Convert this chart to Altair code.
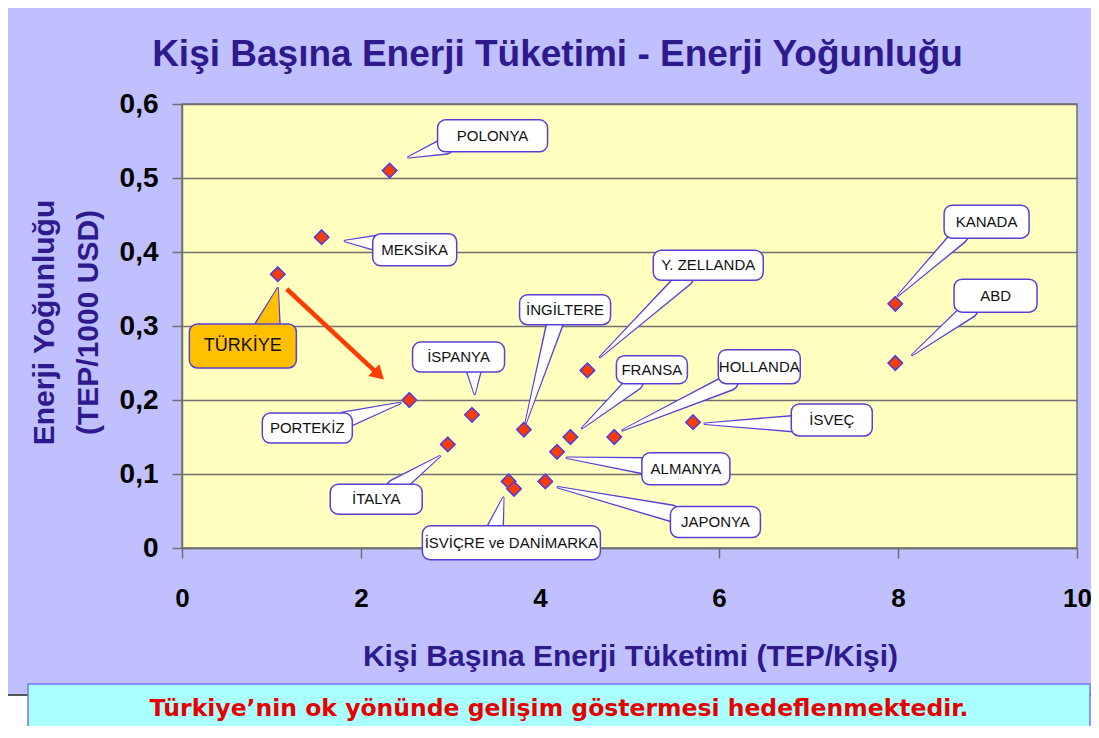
import altair as alt
import pandas as pd

# ---- data ----
countries = ["TÜRKİYE", "MEKSİKA", "POLONYA", "PORTEKİZ", "İSPANYA", "İTALYA",
             "İNGİLTERE", "Y. ZELLANDA", "FRANSA", "ALMANYA", "HOLLANDA", "İSVEÇ",
             "İSVİÇRE", "DANİMARKA", "JAPONYA", "KANADA", "ABD"]
consumption = [1.07, 1.56, 2.32, 2.54, 3.24, 2.97, 3.82, 4.53, 4.34, 4.19, 4.83, 5.71,
               3.65, 3.71, 4.06, 7.97, 7.97]
intensity = [0.37, 0.42, 0.51, 0.20, 0.18, 0.14, 0.16, 0.24, 0.15, 0.13, 0.15, 0.17,
             0.09, 0.08, 0.09, 0.33, 0.25]

x_ticks = [0, 2, 4, 6, 8, 10]
y_ticks = [0, 0.1, 0.2, 0.3, 0.4, 0.5, 0.6]

# ---- callout label placement (data units) ----
label_names = ["POLONYA", "MEKSİKA", "TÜRKİYE", "İSPANYA", "PORTEKİZ", "İTALYA",
               "İSVİÇRE ve DANİMARKA", "İNGİLTERE", "Y. ZELLANDA", "FRANSA", "HOLLANDA",
               "İSVEÇ", "ALMANYA", "JAPONYA", "KANADA", "ABD"]
label_cx = [3.47, 2.60, 0.68, 3.09, 1.40, 2.17, 3.68, 4.28, 5.88, 5.25, 6.45, 7.26, 5.63, 5.96, 8.99, 9.09]
label_cy = [0.557, 0.403, 0.273, 0.258, 0.162, 0.066, 0.007, 0.322, 0.382, 0.241, 0.245, 0.173, 0.107, 0.035, 0.441, 0.341]
box_w = [110, 84, 107, 92, 90, 92, 178, 91, 110, 71, 82, 81, 88, 90, 85, 83]
box_h = [32, 32, 44, 30, 30, 30, 34, 30, 30, 28, 34, 32, 32, 31, 33, 33]
base_x = [2.94, 2.19, 0.96, 3.26, 1.82, 2.38, 3.50, 4.17, 5.62, 5.06, 6.12, 6.85, 5.17, 5.47, 8.69, 8.80]
base_y = [0.543, 0.412, 0.300, 0.243, 0.173, 0.082, 0.027, 0.305, 0.365, 0.224, 0.224, 0.168, 0.111, 0.047, 0.422, 0.322]
tip_x = [2.53, 1.82, 1.07, 3.27, 2.44, 2.88, 3.59, 3.84, 4.67, 4.47, 4.92, 5.84, 4.30, 4.20, 8.00, 8.16]
tip_y = [0.528, 0.415, 0.351, 0.208, 0.196, 0.124, 0.068, 0.169, 0.258, 0.162, 0.159, 0.168, 0.122, 0.082, 0.341, 0.261]

arrow_x = [1.17, 2.20]
arrow_y = [0.350, 0.234]

# ---- layout ----
W, H = 895, 444
PXU = W / 10.0
PYU = H / 0.6
PAD = {"left": 174, "top": 96, "right": 14, "bottom": 178}

INDIGO = "#2e1a8c"
EDGE = "#5a3fd6"
FONT = "Liberation Sans"

pts = pd.DataFrame({"country": countries, "x": consumption, "y": intensity})

boxes = pd.DataFrame({
    "label": label_names,
    "cx": label_cx, "cy": label_cy,
    "x1": [c - w / 2 / PXU for c, w in zip(label_cx, box_w)],
    "x2": [c + w / 2 / PXU for c, w in zip(label_cx, box_w)],
    "y1": [c - h / 2 / PYU for c, h in zip(label_cy, box_h)],
    "y2": [c + h / 2 / PYU for c, h in zip(label_cy, box_h)],
    "main": [n == "TÜRKİYE" for n in label_names],
})

rows = []
for i, n in enumerate(label_names):
    bw = 24 if n == "TÜRKİYE" else 15
    rows.append({"label": n, "o": 0, "x": base_x[i], "y": base_y[i], "w": bw, "wo": bw + 3, "main": n == "TÜRKİYE"})
    rows.append({"label": n, "o": 1, "x": tip_x[i], "y": tip_y[i], "w": 0.5, "wo": 2.5, "main": n == "TÜRKİYE"})
wedges = pd.DataFrame(rows)

arrow = pd.DataFrame({"x": arrow_x, "y": arrow_y, "o": [0, 1]})

xs = alt.Scale(domain=[0, 10], nice=False)
ys = alt.Scale(domain=[0, 0.6], nice=False)

x_axis = alt.Axis(values=x_ticks, grid=False, tickSize=10, tickColor="#707070", tickWidth=1.5,
                  domainColor="#707070", domainWidth=1.5, format="d", labelFlush=False,
                  labelFont=FONT, labelFontSize=26, labelFontWeight="bold", labelColor="black",
                  labelPadding=27, labelOverlap=False, labelBound=False,
                  title="Kişi Başına Enerji Tüketimi (TEP/Kişi)", titleFont=FONT, titleFontSize=30,
                  titleFontWeight="bold", titleColor=INDIGO, titleX=448, titleY=117,
                  titleAlign="center", titleBaseline="alphabetic")
y_axis = alt.Axis(values=y_ticks, grid=True, gridColor="#707070", gridWidth=1.3,
                  tickSize=10, tickColor="#707070", tickWidth=1.5,
                  domainColor="#707070", domainWidth=1.5, labelFlush=False,
                  labelFont=FONT, labelFontSize=28, labelFontWeight="bold", labelColor="black",
                  labelPadding=14,
                  labelExpr="datum.value == 0 ? '0' : replace(format(datum.value, '.1f'), '.', ',')",
                  title=["Enerji Yoğunluğu", "(TEP/1000 USD)"], titleFont=FONT, titleFontSize=30,
                  titleFontWeight="bold", titleColor=INDIGO, titleAngle=270,
                  titleX=-129, titleY=218, titleAlign="center", titleBaseline="alphabetic",
                  titleLineHeight=44)

one = alt.Data(values=[{}])

white_strip = alt.Chart(one).mark_rect(color="white").encode(
    x=alt.value(-174), x2=alt.value(909), y=alt.value(591), y2=alt.value(622))
strip_line = alt.Chart(one).mark_rule(color="#555555", strokeWidth=2).encode(
    x=alt.value(-174), x2=alt.value(909), y=alt.value(591))
note_box = alt.Chart(one).mark_rect(fill="#aaffff", stroke="#7777ee", strokeWidth=1.5).encode(
    x=alt.value(-154), x2=alt.value(908), y=alt.value(580), y2=alt.value(640))
note_text = alt.Chart(one).mark_text(
    text="Türkiye’nin ok yönünde gelişim göstermesi hedeflenmektedir.",
    font="DejaVu Sans", fontSize=23.5, fontWeight="bold", color="#e60000",
    align="center", baseline="alphabetic").encode(x=alt.value(377), y=alt.value(612))

arrow_line = alt.Chart(arrow).mark_line(color="#ff3c00", strokeWidth=4.5).encode(
    x=alt.X("x:Q", scale=xs), y=alt.Y("y:Q", scale=ys), order="o:Q")
arrow_head = alt.Chart(arrow[arrow.o == 1]).mark_point(
    shape="triangle-right", filled=True, color="#ff3c00", size=260, angle=43, opacity=1).encode(
    x=alt.X("x:Q", scale=xs), y=alt.Y("y:Q", scale=ys))

wedge_out = alt.Chart(wedges).mark_trail(color=EDGE).encode(
    x=alt.X("x:Q", scale=xs), y=alt.Y("y:Q", scale=ys),
    detail="label:N", order="o:Q", size=alt.Size("wo:Q", scale=None))
wedge_in = alt.Chart(wedges).mark_trail().encode(
    x=alt.X("x:Q", scale=xs), y=alt.Y("y:Q", scale=ys),
    detail="label:N", order="o:Q", size=alt.Size("w:Q", scale=None),
    color=alt.condition("datum.main", alt.value("#ffc000"), alt.value("white")))

box_marks = alt.Chart(boxes).mark_rect(stroke=EDGE, strokeWidth=1.5, cornerRadius=8).encode(
    x=alt.X("x1:Q", scale=xs), x2="x2:Q", y=alt.Y("y1:Q", scale=ys), y2="y2:Q",
    fill=alt.condition("datum.main", alt.value("#ffc000"), alt.value("white")))
box_text = alt.Chart(boxes).mark_text(font=FONT, color="#111111", baseline="middle").encode(
    x=alt.X("cx:Q", scale=xs), y=alt.Y("cy:Q", scale=ys), text="label:N",
    size=alt.condition("datum.main", alt.value(18), alt.value(15)))

points = alt.Chart(pts).mark_point(shape="diamond", filled=True, fill="#ff3c00",
                                   stroke=EDGE, strokeWidth=1.5, size=200, opacity=1).encode(
    x=alt.X("x:Q", scale=xs, axis=x_axis),
    y=alt.Y("y:Q", scale=ys, axis=y_axis),
    tooltip=["country:N", "x:Q", "y:Q"])

chart = alt.layer(
    points, white_strip, strip_line, note_box, note_text,
    arrow_line, arrow_head, wedge_out, wedge_in, box_marks, box_text,
    points,
).properties(
    width=W, height=H, autosize="none", padding=PAD,
    title=alt.TitleParams("Kişi Başına Enerji Tüketimi - Enerji Yoğunluğu", font=FONT,
                          fontSize=37, fontWeight="bold", color=INDIGO, anchor="middle",
                          frame="group", dx=-72, dy=39, offset=26, baseline="alphabetic"),
).configure(background="#c0c0ff").configure_view(fill="#ffffc0", stroke="#707070", strokeWidth=1.5)

chart.save("out.html", embed_options={"renderer": "svg", "actions": False})
